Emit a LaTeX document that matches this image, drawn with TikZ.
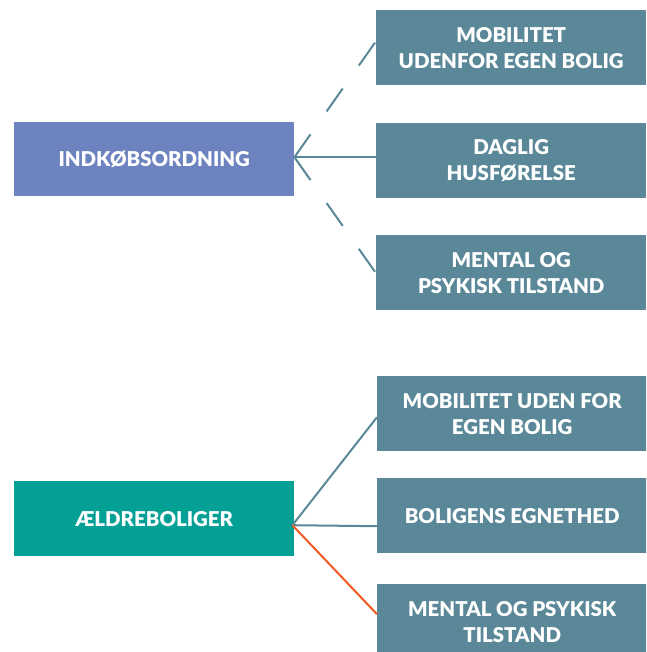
\documentclass[tikz,border=0pt]{standalone}
\usepackage{fontspec}
\setmainfont{Lato}[BoldFont={Lato Black}]
\definecolor{boxblue}{HTML}{6D83C0}
\definecolor{boxgrey}{HTML}{5A8898}
\definecolor{boxteal}{HTML}{04A095}
\definecolor{lineorange}{HTML}{F05A24}
\begin{document}
\begin{tikzpicture}[x=1pt,y=-1pt,
  box/.style={fill=#1, text=white, font=\bfseries\fontsize{20.4}{26}\selectfont,
    align=center, minimum width=270pt, minimum height=75pt, inner sep=0pt, anchor=north west},
  conn/.style={draw=boxgrey, line width=2pt},
  dashconn/.style={conn, dash pattern=on 28pt off 28pt}]
\clip (0,0) rectangle (646,652);
\fill[white] (0,0) rectangle (646,652);
\node[box=boxblue, minimum width=280pt, minimum height=74pt] (ind) at (14,122) {INDKØBSORDNING};
\node[box=boxgrey] (r1) at (376,10) {MOBILITET\\UDENFOR EGEN BOLIG};
\node[box=boxgrey] (r2) at (376,123) {DAGLIG\\HUSFØRELSE};
\node[box=boxgrey] (r3) at (376,235) {MENTAL OG\\PSYKISK TILSTAND};
\node[box=boxteal, minimum width=280pt, minimum height=75pt] (aeld) at (14,481) {ÆLDREBOLIGER};
\node[box=boxgrey] (r4) at (377,376) {MOBILITET UDEN FOR\\EGEN BOLIG};
\node[box=boxgrey] (r5) at (377,478) {BOLIGENS EGNETHED};
\node[box=boxgrey] (r6) at (377,584) {MENTAL OG PSYKISK\\TILSTAND};
\coordinate (ia) at ([yshift=2pt]ind.east);
\draw[dashconn] (ia) -- ([yshift=6.5pt]r1.west);
\draw[dashconn] (ia) -- ([yshift=-0.5pt]r3.west);
\draw[conn] (ia) -- (r2.west |- ia);
\coordinate (aa) at ([xshift=-2pt,yshift=-6.5pt]aeld.east);
\draw[conn] (aa) -- ([yshift=-3.5pt]r4.west);
\draw[conn] (aa) -- ([yshift=-10.5pt]r5.west);
\draw[draw=lineorange, line width=2pt] (aa) -- ([yshift=7.5pt]r6.west);
\end{tikzpicture}
\end{document}
